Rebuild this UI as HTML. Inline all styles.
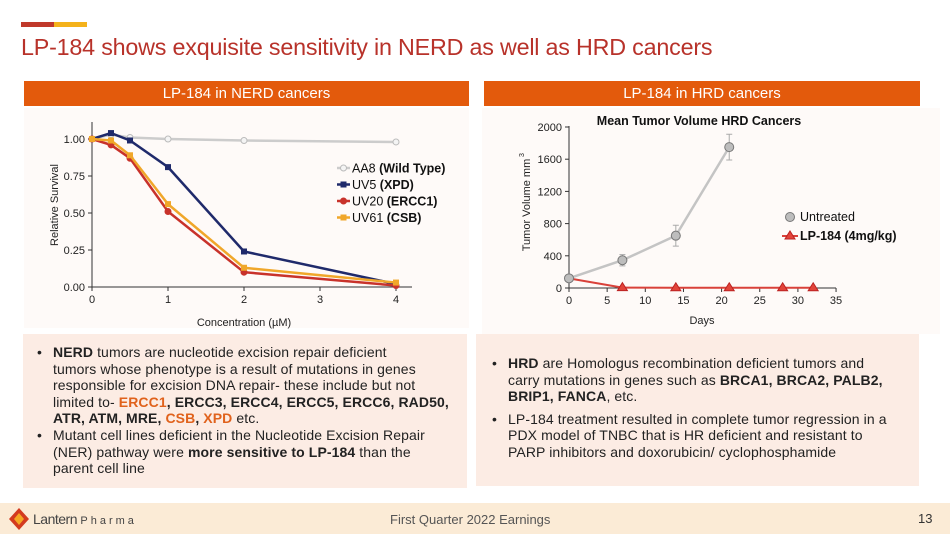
<!DOCTYPE html>
<html><head><meta charset="utf-8"><style>
*{margin:0;padding:0;box-sizing:border-box}
body{width:950px;height:534px;background:#fff;font-family:"Liberation Sans",sans-serif;position:relative;overflow:hidden}
.abs{position:absolute}
.hdr{background:#e35a0c;color:#fff;font-size:15px;text-align:center;line-height:25px;height:25px}
.box{background:#fcece4;font-size:14px;letter-spacing:0.1px;line-height:16.6px;color:#222;white-space:nowrap}
.box ul{list-style:none}
.box li{position:relative;padding-left:22px}
.box li:before{content:"•";position:absolute;left:6px}
.o{color:#e0621c;font-weight:bold}
</style></head><body>
<div class="abs" style="left:21px;top:22px;width:33px;height:5px;background:#c0392b"></div>
<div class="abs" style="left:54px;top:22px;width:33px;height:5px;background:#f4b21b"></div>
<div class="abs" style="left:21px;top:34px;font-size:23.3px;color:#b8322a;letter-spacing:-0.2px">LP-184 shows exquisite sensitivity in NERD as well as HRD cancers</div>
<div class="abs hdr" style="left:24px;top:81px;width:445px">LP-184 in NERD cancers</div>
<div class="abs hdr" style="left:484px;top:81px;width:436px">LP-184 in HRD cancers</div>
<div class="abs" style="left:24px;top:108px;width:445px;height:220px;background:#fefaf8"></div>
<div class="abs" style="left:482px;top:108px;width:458px;height:226px;background:#fefaf8"></div>
<svg class="abs" style="left:0;top:0" width="950" height="534" font-family="Liberation Sans, sans-serif">
<g id="c1"></g>
<g id="c2"></g>
</svg>
<div class="abs box" style="left:23px;top:334px;width:444px;height:154px;padding:10px 8px 0 8px">
<ul><li><b>NERD</b> tumors are nucleotide excision repair deficient<br>tumors whose phenotype is a result of mutations in genes<br>responsible for excision DNA repair- these include but not<br>limited to- <span class="o">ERCC1</span><b>, ERCC3, ERCC4, ERCC5, ERCC6, RAD50,<br>ATR, ATM, MRE, </b><span class="o">CSB</span><b>, </b><span class="o">XPD</span> etc.</li>
<li>Mutant cell lines deficient in the Nucleotide Excision Repair<br>(NER) pathway were <b>more sensitive to LP-184</b> than the<br>parent cell line</li></ul></div>
<div class="abs box" style="left:476px;top:334px;width:443px;height:152px;padding:21px 10px 0 10px">
<ul><li><b>HRD</b> are Homologus recombination deficient tumors and<br>carry mutations in genes such as <b>BRCA1, BRCA2, PALB2,<br>BRIP1, FANCA</b>, etc.</li>
<li style="margin-top:6px">LP-184 treatment resulted in complete tumor regression in a<br>PDX model of TNBC that is HR deficient and resistant to<br>PARP inhibitors and doxorubicin/ cyclophosphamide</li></ul></div>
<div class="abs" style="left:0;top:503px;width:950px;height:31px;background:#fbebd6"></div>
<svg class="abs" style="left:8px;top:507px" width="22" height="24"><path d="M11 1 L21 12 L11 23 L1 12Z" fill="#d33a1f"/><path d="M11 6 L16 12 L11 18 L6 12Z" fill="#f5a623"/></svg>
<div class="abs" style="left:33px;top:511px;font-size:14px;color:#444;letter-spacing:-0.5px">Lantern <span style="font-size:11px;letter-spacing:3px">Pharma</span></div>
<div class="abs" style="left:390px;top:512px;font-size:13px;color:#555">First Quarter 2022 Earnings</div>
<div class="abs" style="left:918px;top:511px;font-size:13px;color:#333">13</div>
<script>
// NERD chart data
const concX=[0,0.25,0.5,1,2,4];
const aa8=[1.00,1.03,1.01,1.00,0.99,0.98];
const uv5=[1.00,1.04,0.99,0.81,0.24,0.02];
const uv20=[1.00,0.96,0.87,0.51,0.10,0.01];
const uv61=[1.00,0.99,0.89,0.56,0.13,0.03];
const yTicks1=[0,0.25,0.5,0.75,1.0];
const yTickLabels1=["0.00","0.25","0.50","0.75","1.00"];
const xTicks1=[0,1,2,3,4];
// HRD chart data
const daysU=[0,7,14,21];
const untreated=[120,345,650,1750];
const untreatedErr=[20,70,130,160];
const daysL=[0,7,14,21,28,32];
const lp184=[120,5,3,3,3,3];
const yTicks2=[0,400,800,1200,1600,2000];
const xTicks2=[0,5,10,15,20,25,30,35];

const NS="http://www.w3.org/2000/svg";
function mk(p,t,a,txt){const e=document.createElementNS(NS,t);for(const k in a)e.setAttribute(k,a[k]);if(txt!==undefined)e.textContent=txt;p.appendChild(e);return e;}

// chart 1
const g1=document.getElementById('c1');
const x1=v=>92+v*76, y1=v=>287-v*148;
let el;
el=mk(g1,'line',{x1:92,y1:122,x2:92,y2:287,stroke:'#333','stroke-width':1});

el=mk(g1,'line',{x1:92,y1:287,x2:412,y2:287,stroke:'#333','stroke-width':1});

yTicks1.forEach((t,i)=>{mk(g1,'line',{x1:88,x2:92,y1:y1(t),y2:y1(t),stroke:'#333'});
 el=mk(g1,'text',{x:85,y:y1(t)+4,'text-anchor':'end','font-size':11,fill:'#222'},yTickLabels1[i]);
 });
xTicks1.forEach(t=>{mk(g1,'line',{x1:x1(t),x2:x1(t),y1:287,y2:291,stroke:'#333'});
 el=mk(g1,'text',{x:x1(t),y:303,'text-anchor':'middle','font-size':11,fill:'#222'},String(t));
 });
el=mk(g1,'text',{x:244,y:326,'text-anchor':'middle','font-size':11,fill:'#222'},'Concentration (µM)');

el=mk(g1,'text',{x:0,y:0,'text-anchor':'middle','font-size':11,fill:'#222',transform:'translate(58,205) rotate(-90)'},'Relative Survival');

const ser1=[['aa8',aa8,'#cccccc','circle',true],['uv5',uv5,'#1f2a6b','square'],['uv20',uv20,'#c8322b','circle'],['uv61',uv61,'#f0a72a','square']];
ser1.forEach(([n,d,c,sh,hollow])=>{
 el=mk(g1,'polyline',{points:d.map((v,i)=>x1(concX[i])+','+y1(v)).join(' '),fill:'none',stroke:c,'stroke-width':2.5});
 
 d.forEach((v,i)=>{const cx=x1(concX[i]),cy=y1(v);
  if(sh==='circle')el=mk(g1,'circle',{cx,cy,r:3,fill:hollow?'#f4f4f4':c,stroke:hollow?'#bbb':c});
  else el=mk(g1,'rect',{x:cx-3,y:cy-3,width:6,height:6,fill:c});
  });
});
const leg1=[['AA8 ','(Wild Type)','#ccc','circle'],['UV5 ','(XPD)','#1f2a6b','square'],['UV20 ','(ERCC1)','#c8322b','circle'],['UV61 ','(CSB)','#f0a72a','square']];
leg1.forEach(([a,b,c,sh],i)=>{const y=168+i*16.5;
 mk(g1,'line',{x1:337,x2:350,y1:y,y2:y,stroke:c,'stroke-width':2.5});
 if(sh==='circle')mk(g1,'circle',{cx:343.5,cy:y,r:3,fill:i===0?'#f4f4f4':c,stroke:i===0?'#bbb':c});else mk(g1,'rect',{x:340.5,y:y-3,width:6,height:6,fill:c});
 el=mk(g1,'text',{x:352,y:y+4.5,'font-size':12.5,fill:'#111'});
 
 mk(el,'tspan',{},a);mk(el,'tspan',{'font-weight':'bold'},b);});

// chart 2
const g2=document.getElementById('c2');
const x2=v=>569+v*7.63, y2=v=>288-v*0.0805;
el=mk(g2,'text',{x:699,y:125,'text-anchor':'middle','font-size':12.5,'font-weight':'bold',fill:'#111'},'Mean Tumor Volume HRD Cancers');

el=mk(g2,'line',{x1:569,y1:126,x2:569,y2:288,stroke:'#333'});

el=mk(g2,'line',{x1:569,y1:288,x2:836,y2:288,stroke:'#333'});

yTicks2.forEach(t=>{mk(g2,'line',{x1:565,x2:569,y1:y2(t),y2:y2(t),stroke:'#333'});
 el=mk(g2,'text',{x:562,y:y2(t)+4,'text-anchor':'end','font-size':11,fill:'#222'},String(t));
 });
xTicks2.forEach(t=>{mk(g2,'line',{x1:x2(t),x2:x2(t),y1:288,y2:292,stroke:'#333'});
 el=mk(g2,'text',{x:x2(t),y:304,'text-anchor':'middle','font-size':11,fill:'#222'},String(t));
 });
el=mk(g2,'text',{x:702,y:324,'text-anchor':'middle','font-size':11,fill:'#222'},'Days');

el=mk(g2,'text',{x:0,y:0,'text-anchor':'middle','font-size':11,fill:'#222',transform:'translate(530,205) rotate(-90)'},'Tumor Volume mm');

mk(g2,'text',{x:0,y:0,'font-size':7,fill:'#222',transform:'translate(524,157) rotate(-90)'},'3');
el=mk(g2,'polyline',{points:daysU.map((d,i)=>x2(d)+','+y2(untreated[i])).join(' '),fill:'none',stroke:'#c4c4c4','stroke-width':2.5});

untreated.forEach((v,i)=>{const cx=x2(daysU[i]);
 el=mk(g2,'path',{d:`M${cx} ${y2(v+untreatedErr[i])}V${y2(v-untreatedErr[i])}M${cx-3} ${y2(v+untreatedErr[i])}h6M${cx-3} ${y2(v-untreatedErr[i])}h6`,stroke:'#aaa',fill:'none'});
 });
el=mk(g2,'polyline',{points:daysL.map((d,i)=>x2(d)+','+y2(lp184[i])).join(' '),fill:'none',stroke:'#d9413a','stroke-width':2});

untreated.forEach((v,i)=>{el=mk(g2,'circle',{cx:x2(daysU[i]),cy:y2(v),r:4.5,fill:'#bdbdbd',stroke:'#777'});
 });
lp184.forEach((v,i)=>{if(i===0)return;const cx=x2(daysL[i]),cy=y2(v);
 el=mk(g2,'path',{d:`M${cx} ${cy-5}L${cx+5} ${cy+3}L${cx-5} ${cy+3}Z`,fill:'#e2443a',stroke:'#b22'});
 });
mk(g2,'circle',{cx:790,cy:217,r:4.5,fill:'#bdbdbd',stroke:'#777'});
el=mk(g2,'text',{x:800,y:221,'font-size':12.5,fill:'#111'},'Untreated');

mk(g2,'line',{x1:782,x2:798,y1:236,y2:236,stroke:'#d9413a','stroke-width':2});
mk(g2,'path',{d:'M790 231L795 239L785 239Z',fill:'#e2443a',stroke:'#b22'});
el=mk(g2,'text',{x:800,y:240,'font-size':12.5,'font-weight':'bold',fill:'#111'},'LP-184 (4mg/kg)');

</script>
</body></html>
